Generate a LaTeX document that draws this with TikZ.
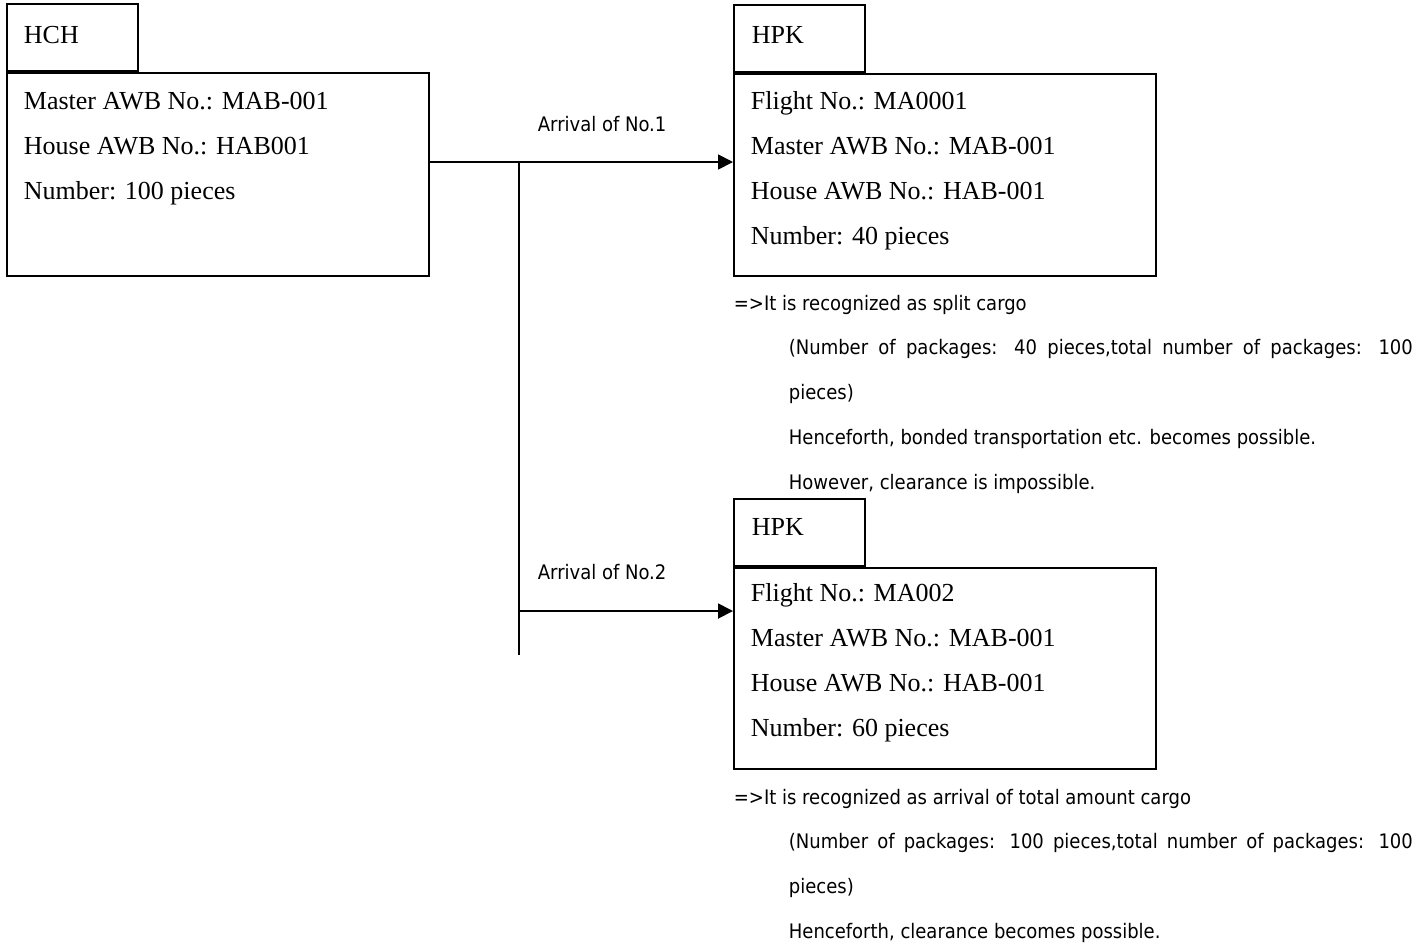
\documentclass[tikz,border=0pt]{standalone}
\usepackage{fontspec}
\setmainfont{Liberation Serif}
\newfontfamily\condsans{DejaVu Sans Condensed}
\usetikzlibrary{arrows.meta}

\begin{document}
\begin{tikzpicture}[x=0.5pt,y=-0.5pt,line width=0.9pt,
    >={Triangle[length=7.5pt,width=7.5pt]}]
    \tikzstyle{panel}=[draw,minimum width=211pt,minimum height=101pt,inner sep=0pt,anchor=north west]
    \tikzstyle{tab}=[draw,minimum width=65.5pt,minimum height=33.5pt,inner sep=0pt,anchor=south west]
    \tikzstyle{boxtext}=[font=\fontsize{13}{22.5}\selectfont,align=left,anchor=base west,inner sep=0pt]
    \tikzstyle{note}=[font=\condsans\fontsize{10}{22.5}\selectfont,align=left,anchor=base west,inner sep=0pt]

    \useasboundingbox (0,0) rectangle (1428,944);

    % sending side
    \node[panel,minimum height=101.5pt] (hch) at (6,72) {};
    \node[tab] (hchtab) at (hch.north west) {};
    \node[boxtext] (hchname) at (23,43) {HCH};
    \node[boxtext] (hchinfo) at (23,199) {Master AWB No.: MAB-001\\House AWB No.: HAB001\\Number: 100 pieces};

    % first arrival
    \node[panel] (hpka) at (733,73) {};
    \node[tab] (hpkatab) at (hpka.north west) {};
    \node[boxtext] (hpkaname) at (751,43) {HPK};
    \node[boxtext] (hpkainfo) at (750,244) {Flight No.: MA0001\\Master AWB No.: MAB-001\\House AWB No.: HAB-001\\Number: 40 pieces};
    \node[note] (notea) at (733,310) {=>It is recognized as split cargo};
    \node[note] (noteatext) at (788,489) {\makebox[312pt][s]{(Number of packages: 40 pieces,total number of packages: 100}\\pieces)\\Henceforth, bonded transportation etc. becomes possible.\\However, clearance is impossible.};

    % second arrival
    \node[panel,minimum height=100.5pt] (hpkb) at (733,567) {};
    \node[tab] (hpkbtab) at (hpkb.north west) {};
    \node[boxtext] (hpkbname) at (751,535) {HPK};
    \node[boxtext] (hpkbinfo) at (750,736) {Flight No.: MA002\\Master AWB No.: MAB-001\\House AWB No.: HAB-001\\Number: 60 pieces};
    \node[note] (noteb) at (733,804) {=>It is recognized as arrival of total amount cargo};
    \node[note] (notebtext) at (788,938) {\makebox[312pt][s]{(Number of packages: 100 pieces,total number of packages: 100}\\pieces)\\Henceforth, clearance becomes possible.};

    % connectors
    \coordinate (split) at (519,162);
    \coordinate (branch) at (519,611);
    \coordinate (tail) at (519,655);
    \draw[->] (hch.east |- split) -- (split -| hpka.west);
    \draw[line width=0.75pt] (split) -- (tail);
    \draw[->] (branch) -- (branch -| hpkb.west);
    \node[note] (arra) at (537,131) {Arrival of No.1};
    \node[note] (arrb) at (537,579) {Arrival of No.2};

\end{tikzpicture}
\end{document}
